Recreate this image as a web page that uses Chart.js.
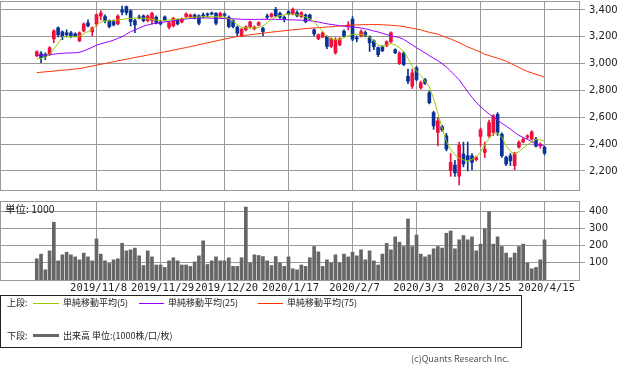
<!DOCTYPE html>
<html>
<head>
<meta charset="utf-8">
<script src="https://cdn.jsdelivr.net/npm/chart.js@4.4.1/dist/chart.umd.min.js"></script>
<style>
body { margin:0; background:#fff; width:633px; height:373px; position:relative; overflow:hidden; font-family:"Noto Sans CJK JP", sans-serif; }
canvas { position:absolute; left:0; }
#price { top:0; }
#vol { top:195px; }
.t { position:absolute; white-space:nowrap; font-size:9px; line-height:12px; color:#222; }
.ln { position:absolute; }
#box { position:absolute; left:0; top:295px; width:522px; height:53px; box-sizing:border-box; border:1px solid #222; }
</style>
</head>
<body>
<canvas id="price" width="633" height="197"></canvas>
<canvas id="vol" width="633" height="105"></canvas>
<div class="t" style="left:5px;top:202px;font-size:10.5px;line-height:13px">単位: 1000</div>

<div id="box"></div>
<div class="t" style="left:7px;top:297px">上段:</div>
<div class="ln" style="left:33px;top:303px;width:26px;height:1px;background:#99cc00"></div>
<div class="t" style="left:63px;top:297px">単純移動平均(5)</div>
<div class="ln" style="left:139px;top:303px;width:25px;height:1px;background:#9900ff"></div>
<div class="t" style="left:168px;top:297px">単純移動平均(25)</div>
<div class="ln" style="left:258px;top:303px;width:25px;height:1px;background:#ff3300"></div>
<div class="t" style="left:287px;top:297px">単純移動平均(75)</div>
<div class="t" style="left:7px;top:330px">下段:</div>
<div class="ln" style="left:33px;top:334px;width:26px;height:3px;background:#666"></div>
<div class="t" style="left:63px;top:330px">出来高 単位:(1000株/口/枚)</div>
<div class="t" style="left:411px;top:353px;color:#555">(c)Quants Research Inc.</div>

<script>
// daily candles, oldest first (index 0 .. 119)
const opens = [3059,3074,3067,3067,3185,3267,3237,3230,3230,3222, 3170,3244,3304,3237,3296,3355,3351,3321,3313,3296,
  3400,3425,3395,3321,3348,3356,3321,3321,3346,3311, 3348,3271,3281,3326,3311,3351,3348,3363,3356,3363,
  3370,3378,3375,3350,3370,3346,3321,3272,3207,3252, 3276,3259,3287,3264,3356,3351,3405,3375,3346,3388,
  3370,3380,3350,3363,3363,3252,3185,3198,3202,3128, 3081,3141,3242,3281,3331,3193,3207,3232,3200,3170,
  3119,3126,3133,3163,3104,3000,3079,2906,2832,2968, 2820,2881,2783,2635,2487,2531,2462,2202,2244,2161,
  2326,2313,2313,2284,2457,2338,2462,2487,2622,2474, 2301,2313,2239,2378,2417,2452,2437,2437,2387,2376];
const highs = [3096,3089,3081,3126,3252,3274,3244,3252,3240,3230, 3237,3304,3326,3274,3370,3395,3363,3326,3326,3363,
  3430,3430,3400,3333,3363,3363,3363,3385,3356,3318, 3356,3311,3345,3333,3341,3378,3370,3370,3363,3378,
  3378,3385,3380,3385,3378,3356,3326,3281,3264,3281, 3318,3281,3313,3270,3370,3378,3420,3385,3356,3395,
  3415,3393,3388,3370,3370,3259,3222,3237,3207,3193, 3193,3193,3252,3313,3350,3207,3252,3244,3207,3178,
  3126,3133,3170,3237,3111,3089,3089,2960,2960,2980, 2870,2890,2795,2645,2600,2540,2480,2330,2280,2415,
  2415,2415,2330,2310,2520,2415,2580,2620,2635,2485, 2310,2330,2340,2425,2445,2470,2500,2450,2410,2385];
const lows = [3052,3007,3030,3059,3156,3200,3178,3200,3193,3200, 3163,3237,3274,3207,3281,3326,3304,3267,3281,3289,
  3363,3363,3281,3230,3333,3311,3311,3296,3296,3289, 3318,3259,3274,3289,3304,3345,3341,3333,3289,3341,
  3348,3363,3289,3341,3348,3267,3267,3207,3200,3244, 3267,3252,3281,3207,3333,3345,3348,3338,3311,3363,
  3363,3348,3341,3304,3326,3207,3178,3193,3111,3120, 3070,3133,3200,3252,3170,3163,3200,3200,3091,3104,
  3052,3089,3126,3156,3074,2993,2985,2850,2815,2870, 2810,2845,2700,2510,2387,2495,2350,2160,2160,2096,
  2230,2200,2210,2275,2385,2300,2450,2465,2465,2300, 2240,2240,2210,2370,2410,2440,2430,2380,2370,2320];
const closes = [3089,3044,3052,3119,3245,3215,3200,3215,3207,3207, 3230,3296,3281,3267,3365,3378,3321,3276,3289,3355,
  3385,3380,3313,3289,3341,3321,3356,3375,3301,3296, 3326,3306,3338,3296,3331,3370,3363,3340,3301,3356,
  3363,3370,3301,3375,3360,3276,3276,3227,3257,3274, 3311,3272,3306,3239,3346,3370,3356,3346,3331,3370,
  3405,3356,3380,3313,3333,3222,3215,3230,3128,3185, 3178,3185,3207,3289,3183,3185,3239,3207,3155,3126,
  3067,3096,3163,3230,3081,3079,2993,2869,2931,2881, 2857,2852,2709,2536,2573,2506,2363,2264,2185,2393,
  2252,2276,2264,2301,2506,2363,2561,2610,2487,2313, 2252,2276,2333,2413,2437,2462,2491,2385,2400,2333];

// moving averages as drawn
const ma5 = [3035,3040,3050,3070,3110,3150,3200,3200,3200,3200, 3205,3220,3240,3255,3290,3310,3318,3320,3322,3325,
  3330,3335,3338,3340,3340,3338,3335,3330,3325,3321, 3322,3325,3328,3332,3336,3340,3343,3346,3348,3350,
  3350,3350,3350,3350,3346,3338,3315,3290,3272,3266, 3265,3266,3270,3280,3305,3330,3350,3358,3365,3370,
  3368,3364,3358,3348,3335,3310,3278,3240,3205,3185, 3178,3178,3195,3208,3218,3220,3218,3212,3195,3170,
  3140,3130,3138,3150,3140,3118,3090,3040,2980,2945, 2912,2870,2828,2740,2630,2520,2420,2360,2320,2295,
  2282,2276,2285,2305,2340,2400,2440,2480,2485,2450, 2390,2345,2326,2345,2370,2395,2415,2435,2432,2422];
const ma25 = [3059,3062,3065,3067,3071,3074,3077,3079,3080,3081, 3085,3095,3108,3122,3138,3147,3157,3165,3175,3188,
  3200,3220,3238,3252,3265,3280,3288,3296,3302,3306, 3311,3315,3320,3326,3330,3333,3336,3339,3341,3341,
  3340,3339,3338,3337,3336,3335,3334,3333,3331,3330, 3330,3330,3330,3330,3331,3331,3330,3329,3328,3327,
  3326,3325,3324,3322,3320,3315,3310,3303,3297,3292, 3288,3283,3279,3276,3273,3270,3266,3260,3252,3243,
  3236,3226,3217,3208,3201,3195,3180,3160,3140,3118, 3100,3080,3060,3040,3022,3000,2975,2945,2912,2880,
  2835,2790,2750,2710,2680,2650,2625,2602,2578,2555, 2535,2512,2488,2465,2450,2435,2418,2400,2392,2385];
const ma75 = [2933,2936,2939,2942,2945,2948,2951,2954,2957,2960, 2963,2969,2976,2982,2989,2995,3001,3008,3014,3021,
  3027,3033,3039,3046,3052,3058,3064,3070,3076,3082, 3088,3094,3101,3107,3114,3120,3127,3134,3141,3148,
  3155,3162,3169,3176,3183,3190,3196,3202,3206,3211, 3215,3219,3223,3227,3231,3235,3238,3242,3245,3249,
  3252,3255,3258,3261,3264,3266,3268,3271,3273,3275, 3278,3280,3283,3286,3288,3289,3290,3291,3291,3291,
  3291,3290,3288,3286,3283,3281,3276,3270,3264,3258, 3252,3242,3233,3226,3220,3207,3195,3184,3170,3156,
  3140,3125,3112,3099,3086,3070,3060,3050,3040,3030, 3018,3003,2988,2972,2956,2942,2931,2920,2910,2900];

// volume, thousands
const volumes = [123,150,59,169,335,111,146,161,146,134, 117,156,134,111,238,150,111,96,117,123,
  213,169,175,185,140,84,169,134,87,87, 73,111,129,111,87,87,79,105,140,227,
  90,111,134,111,111,129,79,79,129,423, 99,146,142,136,111,84,136,99,79,134,
  65,59,87,79,129,194,163,79,117,99, 146,99,150,134,161,140,175,117,169,111,
  87,150,213,175,250,219,194,354,194,261, 150,134,146,181,194,185,271,284,181,233,
  258,233,250,169,208,296,396,208,250,194, 156,129,156,194,208,99,65,73,117,233];

const dateIdx = [14, 29, 44, 59, 74, 89, 104, 119];
const dateLabels = ['2019/11/8', '2019/11/29', '2019/12/20', '2020/1/17', '2020/2/7', '2020/3/3', '2020/3/25', '2020/4/15'];
const priceTicks = [2200, 2400, 2600, 2800, 3000, 3200, 3400];
const volTicks = [100, 200, 300, 400];

const UP = '#f0103c', DOWN = '#0a3296', GRID = '#999';
const X_MIN = -8.62, X_MAX = 127.08;

const xy = arr => arr.map((v, i) => ({x: i, y: v}));
const candleColors = opens.map((o, i) => closes[i] >= o ? UP : DOWN);

const frame = {
  id: 'frame',
  beforeDatasetsDraw(chart) {
    const a = chart.chartArea, c = chart.ctx;
    c.save();
    c.strokeStyle = GRID;
    c.lineWidth = 1;
    c.strokeRect(a.left + 0.5, a.top + 0.5, a.right - a.left, a.bottom - a.top);
    c.restore();
  }
};

const tickFont = {family: 'DejaVu Sans', size: 10};

function yAxis(min, max, ticks) {
  return {
    position: 'right', min: min, max: max,
    afterBuildTicks: s => { s.ticks = ticks.map(v => ({value: v})); },
    afterFit: s => { s.width = 54; s.paddingTop = 0; s.paddingBottom = 0; },
    grid: {color: GRID, tickColor: GRID, tickLength: 6},
    border: {display: false},
    ticks: {color: '#222', font: tickFont, padding: 4, callback: v => v.toLocaleString('en-US')}
  };
}

Chart.defaults.animation = false;

new Chart(document.getElementById('price'), {
  type: 'bar',
  data: {
    datasets: [
      {type: 'line', data: xy(ma5), borderColor: '#99cc00', borderWidth: 1, pointRadius: 0, order: 0},
      {type: 'line', data: xy(ma25), borderColor: '#9900ff', borderWidth: 1, pointRadius: 0, order: 1},
      {type: 'line', data: xy(ma75), borderColor: '#ff3300', borderWidth: 1, pointRadius: 0, order: 2},
      {data: opens.map((o, i) => ({x: i, y: [o, closes[i]]})), backgroundColor: candleColors,
        barThickness: 3, minBarLength: 1, grouped: false, order: 3},
      {data: lows.map((l, i) => ({x: i, y: [l, highs[i]]})), backgroundColor: candleColors,
        barThickness: 1, grouped: false, order: 4}
    ]
  },
  options: {
    responsive: false,
    devicePixelRatio: 1,
    layout: {padding: {left: 0, top: 1, right: 0, bottom: 0}},
    plugins: {legend: {display: false}, tooltip: {enabled: false}},
    scales: {
      x: {
        type: 'linear', min: X_MIN, max: X_MAX, offset: false,
        afterBuildTicks: s => { s.ticks = dateIdx.map(v => ({value: v})); },
        afterFit: s => { s.height = 7; s.paddingLeft = 0; s.paddingRight = 0; },
        grid: {color: GRID, drawTicks: false, offset: false},
        border: {display: false},
        ticks: {display: false}
      },
      y: yAxis(2058, 3467, priceTicks)
    }
  },
  plugins: [frame]
});

new Chart(document.getElementById('vol'), {
  type: 'bar',
  data: {
    datasets: [
      {data: xy(volumes), backgroundColor: '#666', barThickness: 3}
    ]
  },
  options: {
    responsive: false,
    devicePixelRatio: 1,
    layout: {padding: {left: 0, top: 6, right: 0, bottom: 0}},
    plugins: {legend: {display: false}, tooltip: {enabled: false}},
    scales: {
      x: {
        type: 'linear', min: X_MIN, max: X_MAX, offset: false,
        afterBuildTicks: s => { s.ticks = dateIdx.map(v => ({value: v})); },
        afterFit: s => { s.height = 20; s.paddingLeft = 0; s.paddingRight = 0; },
        grid: {color: GRID, drawTicks: false, offset: false},
        border: {display: false},
        ticks: {color: '#222', font: {family: 'DejaVu Sans Mono', size: 10.5}, padding: 2,
          maxRotation: 0, autoSkip: false, labelOffset: 2, callback: (v, i) => dateLabels[i]}
      },
      y: yAxis(0, 458, volTicks)
    }
  },
  plugins: [frame]
});
</script>
</body>
</html>
